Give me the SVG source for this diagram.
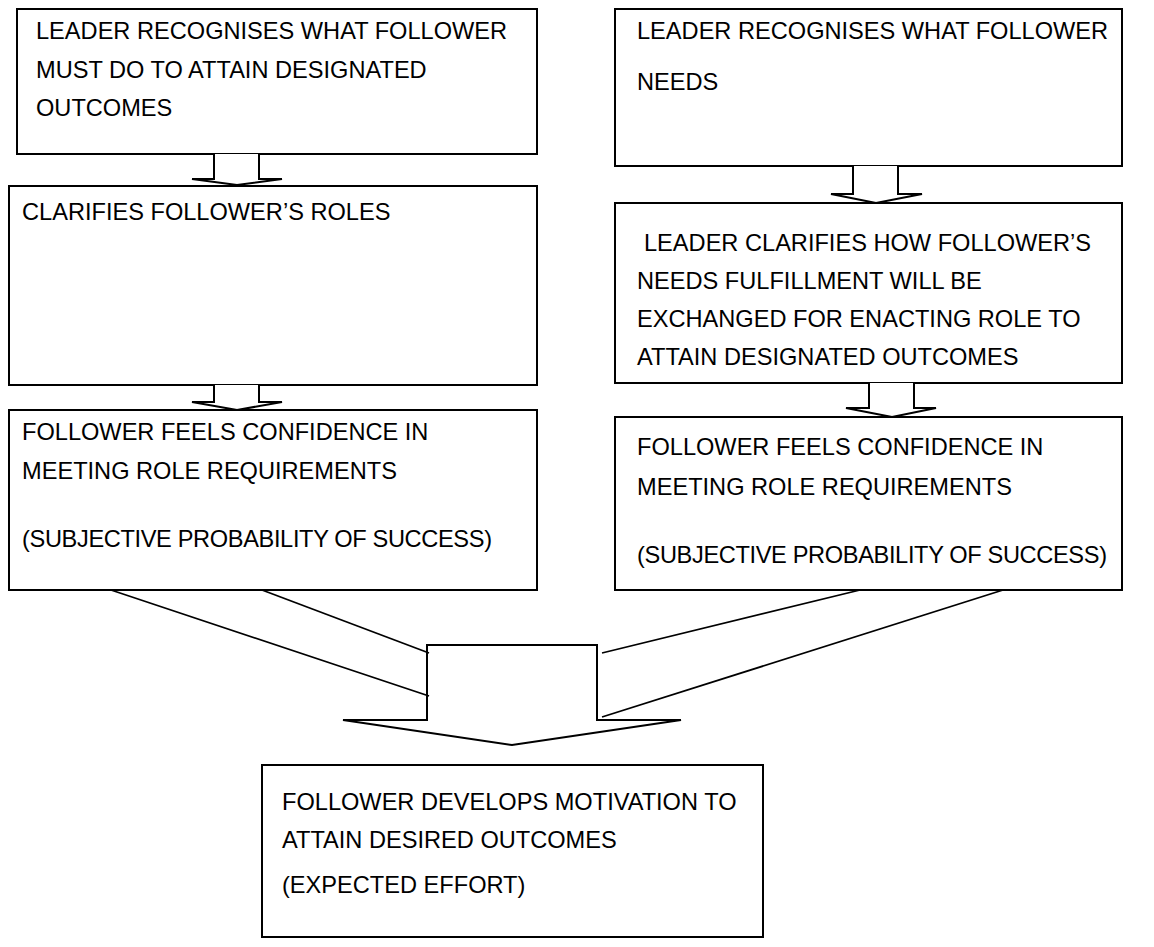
<svg xmlns="http://www.w3.org/2000/svg" width="1154" height="947" viewBox="0 0 1154 947">
  <style>
    .box { fill: #ffffff; stroke: #000000; stroke-width: 2; }
    .txt { font-family: "Liberation Sans", Arial, sans-serif; font-size: 23.6px; fill: #000000; }
    .arrow { fill: #ffffff; stroke: #000000; stroke-width: 2; stroke-linejoin: miter; }
    .feed { fill: none; stroke: #000000; stroke-width: 1.8; }
  </style>
  <rect width="1154" height="947" fill="#ffffff"/>

  <!-- left column -->
  <g id="recognise-outcomes">
    <rect class="box" x="17" y="9" width="520" height="145"/>
    <text class="txt" x="36" y="39">LEADER RECOGNISES WHAT FOLLOWER</text>
    <text class="txt" x="36" y="78">MUST DO TO ATTAIN DESIGNATED</text>
    <text class="txt" x="36" y="116">OUTCOMES</text>
  </g>
  <g id="clarify-roles">
    <rect class="box" x="9" y="186" width="528" height="199"/>
    <text class="txt" x="22" y="220">CLARIFIES FOLLOWER’S ROLES</text>
  </g>
  <g id="confidence-left">
    <rect class="box" x="9" y="410" width="528" height="180"/>
    <text class="txt" x="22" y="440">FOLLOWER FEELS CONFIDENCE IN</text>
    <text class="txt" x="22" y="479">MEETING ROLE REQUIREMENTS</text>
    <text class="txt" x="22" y="547" textLength="470" lengthAdjust="spacing">(SUBJECTIVE PROBABILITY OF SUCCESS)</text>
  </g>

  <!-- right column -->
  <g id="recognise-needs">
    <rect class="box" x="615" y="9" width="507" height="157"/>
    <text class="txt" x="637" y="39">LEADER RECOGNISES WHAT FOLLOWER</text>
    <text class="txt" x="637" y="90">NEEDS</text>
  </g>
  <g id="clarify-exchange">
    <rect class="box" x="615" y="203" width="507" height="180"/>
    <text class="txt" x="644" y="251">LEADER CLARIFIES HOW FOLLOWER’S</text>
    <text class="txt" x="637" y="289">NEEDS FULFILLMENT WILL BE</text>
    <text class="txt" x="637" y="327">EXCHANGED FOR ENACTING ROLE TO</text>
    <text class="txt" x="637" y="365">ATTAIN DESIGNATED OUTCOMES</text>
  </g>
  <g id="confidence-right">
    <rect class="box" x="615" y="417" width="507" height="173"/>
    <text class="txt" x="637" y="455">FOLLOWER FEELS CONFIDENCE IN</text>
    <text class="txt" x="637" y="495">MEETING ROLE REQUIREMENTS</text>
    <text class="txt" x="637" y="563" textLength="470" lengthAdjust="spacing">(SUBJECTIVE PROBABILITY OF SUCCESS)</text>
  </g>

  <!-- outcome -->
  <g id="motivation">
    <rect class="box" x="262" y="765" width="501" height="172"/>
    <text class="txt" x="282" y="810">FOLLOWER DEVELOPS MOTIVATION TO</text>
    <text class="txt" x="282" y="848">ATTAIN DESIRED OUTCOMES</text>
    <text class="txt" x="282" y="893">(EXPECTED EFFORT)</text>
  </g>

  <!-- connectors: block arrows and converging lines -->
  <g id="connectors">
    <polyline class="arrow" points="214,154 214,179 192,179 237,185 282,179 259,179 259,154"/>
    <polyline class="arrow" points="214,385 214,402 192,402 237,410 282,402 259,402 259,385"/>
    <polyline class="arrow" points="853,166 853,194 831,194 876,203 922,194 898,194 898,166"/>
    <polyline class="arrow" points="869,383 869,408 846,408 892,417 936,408 914,408 914,383"/>

    <polygon class="arrow" points="427,720 427,645 597,645 597,720 681,720 512,745 343,720"/>

    <line class="feed" x1="111" y1="590" x2="429" y2="696"/>
    <line class="feed" x1="262" y1="590" x2="429" y2="653"/>
    <line class="feed" x1="860" y1="590" x2="602" y2="653"/>
    <line class="feed" x1="1003" y1="590" x2="602" y2="717"/>
  </g>
</svg>
